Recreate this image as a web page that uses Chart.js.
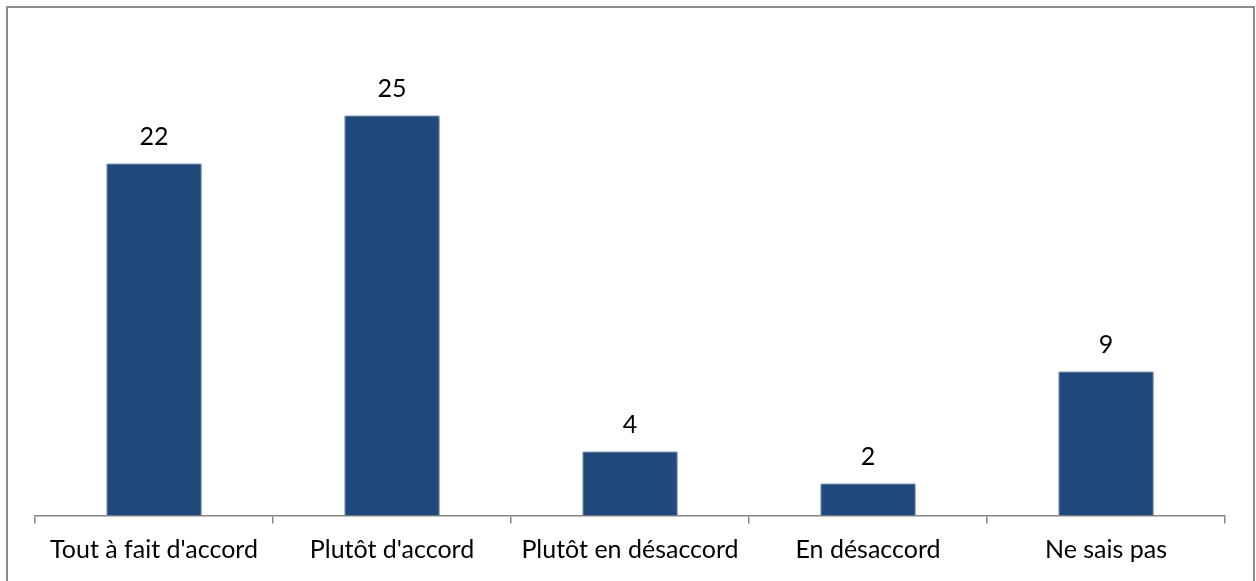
<!DOCTYPE html>
<html>
<head>
<meta charset="utf-8">
<script src="https://cdn.jsdelivr.net/npm/chart.js@4"></script>
<style>
  html, body { margin: 0; padding: 0; background: #ffffff; }
  #wrap { width: 1256px; height: 581px; position: relative; }
</style>
</head>
<body>
<div id="wrap"><canvas id="c" width="1256" height="581"></canvas></div>
<script>
// Réponses à la question
const categories = ["Tout à fait d'accord", "Plutôt d'accord", "Plutôt en désaccord", "En désaccord", "Ne sais pas"];
const counts = [22, 25, 4, 2, 9];

const FONT = "Lato, 'Open Sans', sans-serif";
const BAR_COLOR = '#1F497D';

// Frame around the chart (left, top, right edges)
const framePlugin = {
  id: 'frame',
  beforeDraw(chart) {
    const ctx = chart.ctx;
    ctx.save();
    ctx.fillStyle = '#ffffff';
    ctx.fillRect(0, 0, chart.width, chart.height);
    ctx.strokeStyle = '#8c8c8c';
    ctx.lineWidth = 2;
    ctx.beginPath();
    ctx.moveTo(7, chart.height);
    ctx.lineTo(7, 7);
    ctx.lineTo(1254, 7);
    ctx.lineTo(1254, chart.height);
    ctx.stroke();
    ctx.restore();
  }
};

// Soft drop shadow under the bars
const shadowPlugin = {
  id: 'barShadow',
  beforeDatasetsDraw(chart) {
    const ctx = chart.ctx;
    ctx.save();
    ctx.shadowColor = 'rgba(0,0,0,0.35)';
    ctx.shadowBlur = 4;
    ctx.shadowOffsetX = 1.5;
    ctx.shadowOffsetY = 1.5;
  },
  afterDatasetsDraw(chart) {
    chart.ctx.restore();
  }
};

// Value written above each bar
const valueLabels = {
  id: 'valueLabels',
  afterDatasetsDraw(chart) {
    const ctx = chart.ctx;
    const meta = chart.getDatasetMeta(0);
    const data = chart.data.datasets[0].data;
    ctx.save();
    ctx.font = '25px ' + FONT;
    ctx.fillStyle = '#000000';
    ctx.textAlign = 'center';
    ctx.textBaseline = 'middle';
    meta.data.forEach((bar, i) => {
      ctx.fillText(String(data[i]), bar.x, bar.y - 27);
    });
    ctx.restore();
  }
};

new Chart(document.getElementById('c'), {
  type: 'bar',
  data: {
    labels: categories,
    datasets: [{
      data: counts,
      backgroundColor: BAR_COLOR,
      borderColor: '#3d6291',
      borderWidth: 1,
      barPercentage: 0.4,
      categoryPercentage: 1.0
    }]
  },
  options: {
    responsive: false,
    animation: false,
    devicePixelRatio: 1,
    layout: { padding: { left: 35, right: 31, top: 35.5, bottom: 0 } },
    plugins: {
      legend: { display: false },
      tooltip: { enabled: false }
    },
    scales: {
      x: {
        offset: true,
        grid: {
          offset: true,
          drawOnChartArea: false,
          drawTicks: true,
          tickLength: 8,
          color: '#868686',
          lineWidth: 1.5
        },
        border: { display: true, color: '#868686', width: 1.5 },
        ticks: {
          color: '#000000',
          font: { family: FONT, size: 25 },
          padding: 11,
          maxRotation: 0,
          autoSkip: false
        },
        afterFit(scale) { scale.height = 581 - 515.5; }
      },
      y: {
        display: false,
        min: 0,
        max: 30
      }
    }
  },
  plugins: [framePlugin, shadowPlugin, valueLabels]
});
</script>
</body>
</html>
